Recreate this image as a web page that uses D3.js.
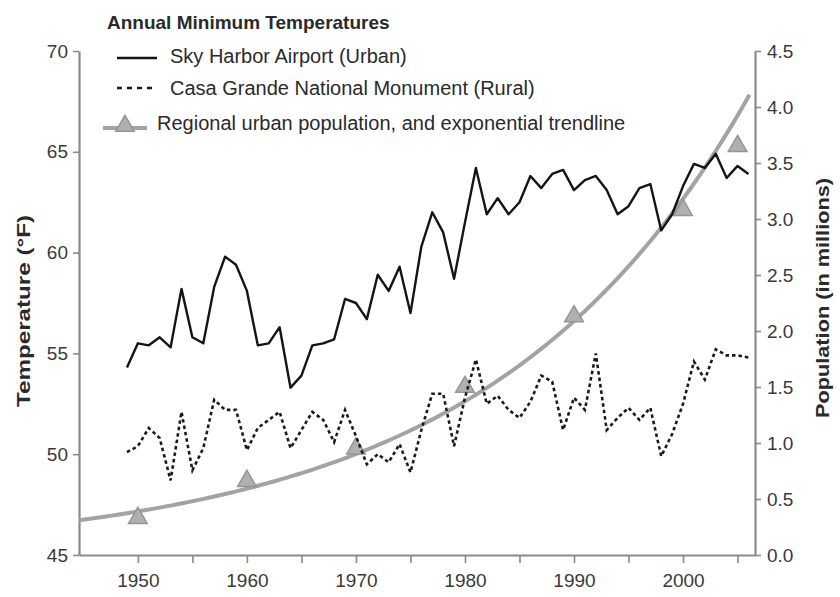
<!DOCTYPE html>
<html>
<head>
<meta charset="utf-8">
<script src="https://cdn.jsdelivr.net/npm/d3@7/dist/d3.min.js"></script>
<style>
    body { margin: 0; background: #fff; }
    svg { display: block; font-family: "Liberation Sans", Arial, sans-serif; }
</style>
</head>
<body>
<svg id="chart" width="840" height="597"></svg>
<script>
// annual minimum temperatures, 1949 - 2006 (deg F)
const years = d3.range(1949, 2007);

const urbanTemps = [
    54.3, 55.5, 55.4, 55.8, 55.3, 58.2, 55.8, 55.5, 58.3, 59.8,
    59.4, 58.1, 55.4, 55.5, 56.3, 53.3, 53.9, 55.4, 55.5, 55.7,
    57.7, 57.5, 56.7, 58.9, 58.1, 59.3, 57.0, 60.3, 62.0, 61.0,
    58.7, 61.5, 64.2, 61.9, 62.7, 61.9, 62.5, 63.8, 63.2, 63.9,
    64.1, 63.1, 63.6, 63.8, 63.1, 61.9, 62.3, 63.2, 63.4, 61.1,
    61.9, 63.3, 64.4, 64.2, 64.9, 63.7, 64.3, 63.9
];

const ruralTemps = [
    50.1, 50.4, 51.3, 50.8, 48.7, 52.1, 49.2, 50.3, 52.7, 52.2,
    52.2, 50.2, 51.3, 51.7, 52.1, 50.3, 51.2, 52.1, 51.7, 50.6,
    52.2, 50.9, 49.5, 50.0, 49.6, 50.5, 49.1, 51.2, 53.0, 53.0,
    50.4, 52.8, 54.7, 52.5, 52.9, 52.2, 51.8, 52.6, 53.9, 53.6,
    51.2, 52.8, 52.2, 55.0, 51.2, 51.8, 52.3, 51.7, 52.3, 49.9,
    51.0, 52.5, 54.6, 53.7, 55.2, 54.9, 54.9, 54.8
];

// regional urban population (millions)
const popYears = [1950, 1960, 1970, 1980, 1990, 2000, 2005];
const popMillions = [0.33, 0.66, 0.95, 1.50, 2.13, 3.08, 3.65];

const xTicks = [1950, 1955, 1960, 1965, 1970, 1975, 1980, 1985, 1990, 1995, 2000, 2005];
const tempTicks = [45, 50, 55, 60, 65, 70];
const popTicks = [0, 0.5, 1, 1.5, 2, 2.5, 3, 3.5, 4, 4.5];

const svg = d3.select("#chart");

const x = d3.scaleLinear().domain([1944.6, 2006.6]).range([79, 755]);
const yTemp = d3.scaleLinear().domain([45, 70]).range([555, 51]);
const yPop = d3.scaleLinear().domain([0, 4.5]).range([555, 51]);

const axisColor = "#8a8a8a";
const textColor = "#2a2a2a";

// axes
const gLeft = svg.append("g")
    .attr("transform", "translate(79,0)")
    .call(d3.axisLeft(yTemp).tickValues(tempTicks).tickSize(6).tickPadding(5).tickSizeOuter(0));

const gRight = svg.append("g")
    .attr("transform", "translate(755,0)")
    .call(d3.axisRight(yPop).tickValues(popTicks).tickFormat(d3.format(".1f"))
        .tickSize(6).tickPadding(6).tickSizeOuter(0));

const gBottom = svg.append("g")
    .attr("transform", "translate(0,555)")
    .call(d3.axisBottom(x).tickValues(xTicks).tickFormat(function (d) {
        return d % 10 === 0 ? d : "";
    }).tickSize(8).tickPadding(11).tickSizeOuter(0));

[gLeft, gRight, gBottom].forEach(function (g) {
    g.select(".domain").attr("stroke", axisColor).attr("stroke-width", 2.2);
    g.selectAll(".tick line").attr("stroke", axisColor).attr("stroke-width", 1.6);
    g.selectAll(".tick text")
        .attr("fill", "#3a3a3a")
        .style("font-size", "19px");
});

// axis titles
svg.append("text")
    .attr("transform", "translate(30,311) rotate(-90)")
    .attr("text-anchor", "middle")
    .attr("textLength", 192)
    .attr("lengthAdjust", "spacingAndGlyphs")
    .style("font-size", "19px")
    .style("font-weight", "bold")
    .attr("fill", textColor)
    .text("Temperature (°F)");

svg.append("text")
    .attr("transform", "translate(829,298) rotate(-90)")
    .attr("text-anchor", "middle")
    .attr("textLength", 240)
    .attr("lengthAdjust", "spacingAndGlyphs")
    .style("font-size", "19px")
    .style("font-weight", "bold")
    .attr("fill", textColor)
    .text("Population (in millions)");

// population trendline: least squares fit of ln(pop) on year
const fit = (function () {
    const lp = popMillions.map(Math.log);
    const mx = d3.mean(popYears), my = d3.mean(lp);
    let sxy = 0, sxx = 0;
    for (let i = 0; i < popYears.length; i++) {
        sxy += (popYears[i] - mx) * (lp[i] - my);
        sxx += (popYears[i] - mx) * (popYears[i] - mx);
    }
    const b = sxy / sxx;
    return { a: my - b * mx, b: b };
})();

const trendYears = d3.range(1944.6, 2006.4, 0.5);
svg.append("path")
    .datum(trendYears)
    .attr("fill", "none")
    .attr("stroke", "#a3a3a3")
    .attr("stroke-width", 4)
    .attr("d", d3.line()
        .x(function (d) { return x(d); })
        .y(function (d) { return yPop(Math.exp(fit.a + fit.b * d)); }));

// population markers
const tri = d3.symbol().type(d3.symbolTriangle).size(150);
svg.append("g")
    .selectAll("path")
    .data(popYears)
    .enter()
    .append("path")
    .attr("d", tri)
    .attr("transform", function (d, i) {
        return "translate(" + x(d) + "," + yPop(popMillions[i]) + ")";
    })
    .attr("fill", "#b0b0b0")
    .attr("stroke", "#959595")
    .attr("stroke-width", 1.5);

// temperature lines
const tempLine = d3.line()
    .x(function (d, i) { return x(years[i]); })
    .y(function (d) { return yTemp(d); });

svg.append("path")
    .datum(ruralTemps)
    .attr("fill", "none")
    .attr("stroke", "#1a1a1a")
    .attr("stroke-width", 2.6)
    .attr("stroke-dasharray", "3.5,3")
    .attr("d", tempLine);

svg.append("path")
    .datum(urbanTemps)
    .attr("fill", "none")
    .attr("stroke", "#141414")
    .attr("stroke-width", 2.4)
    .attr("stroke-linejoin", "round")
    .attr("d", tempLine);

// legend
const legend = svg.append("g");

legend.append("text")
    .attr("x", 107).attr("y", 29)
    .style("font-size", "19px")
    .style("font-weight", "bold")
    .attr("fill", textColor)
    .text("Annual Minimum Temperatures");

legend.append("line")
    .attr("x1", 117).attr("x2", 157).attr("y1", 58).attr("y2", 58)
    .attr("stroke", "#141414").attr("stroke-width", 2.4);
legend.append("text")
    .attr("x", 170).attr("y", 63)
    .style("font-size", "20px")
    .attr("fill", textColor)
    .text("Sky Harbor Airport (Urban)");

legend.append("line")
    .attr("x1", 117).attr("x2", 156).attr("y1", 88).attr("y2", 88)
    .attr("stroke", "#1a1a1a").attr("stroke-width", 2.6)
    .attr("stroke-dasharray", "5,5");
legend.append("text")
    .attr("x", 170).attr("y", 95)
    .style("font-size", "20px")
    .attr("fill", textColor)
    .text("Casa Grande National Monument (Rural)");

legend.append("line")
    .attr("x1", 103).attr("x2", 147).attr("y1", 128).attr("y2", 128)
    .attr("stroke", "#a3a3a3").attr("stroke-width", 4);
legend.append("path")
    .attr("d", tri)
    .attr("transform", "translate(125,126)")
    .attr("fill", "#b0b0b0")
    .attr("stroke", "#959595")
    .attr("stroke-width", 1.5);
legend.append("text")
    .attr("x", 157).attr("y", 130)
    .style("font-size", "20px")
    .attr("fill", textColor)
    .text("Regional urban population, and exponential trendline");
</script>
</body>
</html>
